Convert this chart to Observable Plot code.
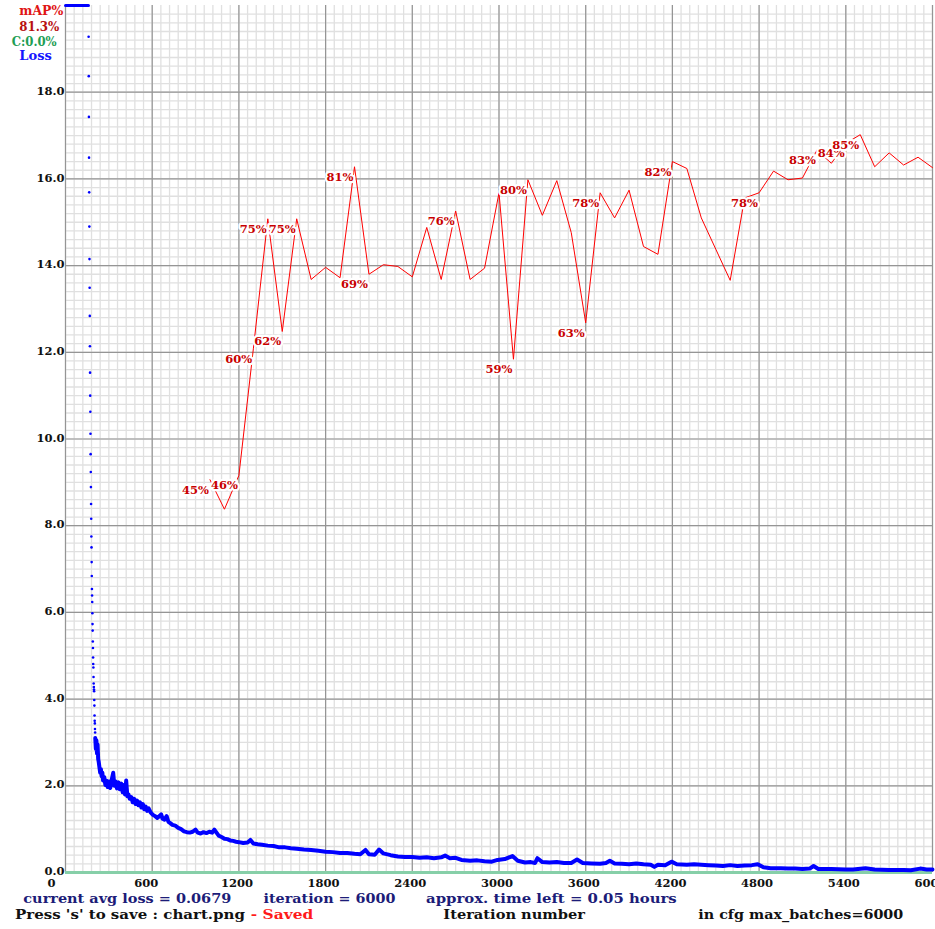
<!DOCTYPE html>
<html>
<head>
<meta charset="utf-8">
<script src="https://cdn.jsdelivr.net/npm/d3@7"></script>
<script src="https://cdn.jsdelivr.net/npm/@observablehq/plot@0.6"></script>
<style>
  html, body { margin: 0; padding: 0; background: #fff; overflow: hidden; }
  #chart { position: relative; width: 935px; height: 929px; }
</style>
</head>
<body>
<div id="chart"></div>
<script>
// ---------------- data ----------------
// x ticks (iterations) and y ticks (loss)
const xTicks = [0, 600, 1200, 1800, 2400, 3000, 3600, 4200, 4800, 5400, 6000];
const yTicks = [0, 2, 4, 6, 8, 10, 12, 14, 16, 18];

// loss above the top of the chart (clamped at 20)
const clampIter = [0, 159];
const clampLoss = [20, 20];

// early, sparse avg-loss points (one per iteration)
const earlyIter = [160,161,162,163,164,165,166,167,168,169,170,171,172,173,174,175,176,177,178,179,180,181,182,183,184,185,186,187,188,189,190,191,192,193,194,195,196,197,198,199,200,201,202,203,204,205];
const earlyLoss = [19.28,18.37,17.43,16.49,15.69,14.90,14.15,13.49,12.84,12.14,11.53,11.00,10.63,10.12,9.65,9.24,8.89,8.50,8.16,7.75,7.50,7.16,6.84,6.54,6.39,6.24,5.98,5.73,5.58,5.33,5.18,4.96,4.81,4.73,4.51,4.36,4.28,4.22,4.18,3.98,3.85,3.62,3.50,3.44,3.31,3.23];

// dense avg-loss band
const bandIter = [206,210,214,218,222,226,230,235,240,245,250,255,260,268,276,284,292,300,310,320,330,338,346,356,366,376,386,396,404,412,420,428,436,445,455,465,475,485,495,505,515,525,535,545,555,565,575,590,605,620,635,650,662,672,685,700,712,725,740,760,780,800,820,840,860,880,900,915,935,955,975,995,1015,1030,1045,1060,1080,1100,1120,1140,1160,1180,1200,1230,1260,1280,1300,1330,1360,1400,1440,1480,1520,1560,1600,1650,1700,1750,1800,1850,1900,1950,2000,2040,2076,2100,2140,2170,2200,2250,2300,2350,2400,2450,2500,2550,2600,2627,2660,2700,2740,2800,2850,2900,2950,2990,3040,3093,3130,3180,3220,3250,3266,3300,3350,3400,3450,3500,3540,3580,3640,3700,3740,3767,3800,3850,3900,3950,4000,4050,4075,4100,4150,4194,4230,4300,4350,4400,4450,4500,4550,4600,4650,4700,4750,4790,4830,4880,4950,5000,5050,5100,5150,5177,5210,5300,5400,5450,5536,5600,5700,5800,5850,5915,5960,6000];
const bandLoss = [3.10,2.85,3.05,2.75,2.95,2.62,2.55,2.42,2.30,2.38,2.22,2.30,2.12,2.20,2.02,2.12,1.97,2.10,1.95,2.14,2.30,2.00,2.10,1.94,2.08,1.92,2.05,1.85,2.02,1.80,2.12,1.76,1.80,1.70,1.74,1.62,1.70,1.58,1.66,1.55,1.62,1.50,1.58,1.46,1.52,1.42,1.48,1.38,1.33,1.30,1.26,1.30,1.34,1.24,1.22,1.30,1.17,1.14,1.10,1.08,1.03,1.00,0.95,0.93,0.92,0.94,0.99,0.92,0.90,0.93,0.91,0.94,0.92,0.99,0.92,0.85,0.82,0.78,0.77,0.74,0.73,0.71,0.70,0.68,0.69,0.75,0.67,0.65,0.64,0.62,0.61,0.58,0.58,0.56,0.55,0.53,0.52,0.50,0.48,0.47,0.45,0.45,0.43,0.42,0.52,0.42,0.41,0.53,0.44,0.40,0.37,0.36,0.36,0.34,0.35,0.33,0.35,0.39,0.33,0.34,0.29,0.27,0.28,0.26,0.25,0.29,0.31,0.38,0.27,0.23,0.24,0.22,0.33,0.24,0.23,0.24,0.22,0.22,0.30,0.22,0.21,0.20,0.22,0.27,0.21,0.20,0.19,0.21,0.19,0.18,0.13,0.18,0.17,0.25,0.19,0.18,0.19,0.18,0.17,0.16,0.15,0.17,0.15,0.16,0.17,0.19,0.12,0.10,0.10,0.09,0.09,0.08,0.09,0.15,0.08,0.08,0.07,0.07,0.10,0.07,0.06,0.06,0.05,0.09,0.07,0.068];

// mAP (%) every 100 iterations
const mapIter = [1000,1100,1200,1300,1400,1500,1600,1700,1800,1900,2000,2100,2200,2300,2400,2500,2600,2700,2800,2900,3000,3100,3200,3300,3400,3500,3600,3700,3800,3900,4000,4100,4200,4300,4400,4500,4600,4700,4800,4900,5000,5100,5200,5300,5400,5500,5600,5700,5800,5900,6000];
const mapVal = [45.3,41.9,45.8,60.4,75.4,62.4,75.4,68.4,69.8,68.6,81.4,69.0,70.1,69.9,68.7,74.4,68.4,76.3,68.4,69.7,78.4,59.2,79.9,75.8,79.8,73.8,63.4,78.4,75.5,78.7,72.2,71.3,82.0,81.2,75.5,71.9,68.3,77.8,78.4,80.9,79.9,80.1,83.3,81.8,84.1,85.1,81.4,83.0,81.6,82.5,81.3];
// iterations where a percentage label is printed
const labelIter = [1000,1200,1300,1400,1500,1600,2000,2100,2700,3100,3200,3600,3700,4200,4800,5200,5400,5500];

// texts
const legendTexts = ["mAP%", "81.3%", "C:0.0%", "Loss"];
const statusTexts = ["current avg loss = 0.0679", "iteration = 6000", "approx. time left = 0.05 hours"];
const footerTexts = ["Press 's' to save : chart.png", "- Saved", "Iteration number", "in cfg max_batches=6000"];

// ---------------- build tables ----------------
const clamp = clampIter.map((x, i) => ({x, y: clampLoss[i]}));
const early = earlyIter.map((x, i) => ({x, y: earlyLoss[i]}));
const band = bandIter.map((x, i) => ({x, y: bandLoss[i]}));
const mapData = mapIter.map((x, i) => ({x, y: mapVal[i] / 5}));  // 100% == 20 on the axis
const labels = mapData.filter(d => labelIter.includes(d.x))
  .map(d => ({...d, text: Math.round(d.y * 5) + "%"}));

const FONT = "DejaVu Serif";
const minorX = d3.range(0, 6001, 60);
const minorY = d3.range(0, 20.0001, 0.2);

const svg = Plot.plot({
  width: 935,
  height: 929,
  marginLeft: 65,
  marginRight: 3,
  marginTop: 5,
  marginBottom: 57,
  style: {background: "#fff", fontFamily: FONT},
  x: {domain: [0, 6000], axis: null},
  y: {domain: [0, 20], axis: null},
  marks: [
    Plot.ruleX(minorX, {stroke: "#e0e0e0", strokeWidth: 1.3}),
    Plot.ruleY(minorY.filter(v => v < 19.99), {stroke: "#e0e0e0", strokeWidth: 1.3}),
    Plot.ruleX(xTicks, {stroke: "#959595", strokeWidth: 1.2}),
    Plot.ruleY(yTicks.filter(v => v > 0), {stroke: "#959595", strokeWidth: 1.2}),
    Plot.ruleY([0], {stroke: "#86cfa8", strokeWidth: 3}),
    // y tick labels
    Plot.text(yTicks, {x: 0, y: d => d, text: d => d.toFixed(1), textAnchor: "end", dx: -1, dy: -1,
      fontFamily: FONT, fontWeight: "bold", fontSize: 11.5, fill: "#111"}),
    // x tick labels
    Plot.text(xTicks, {x: d => d, y: 0, text: d => String(d), textAnchor: "start", dx: -18, dy: 10.5,
      fontFamily: FONT, fontWeight: "bold", fontSize: 11.5, fill: "#111"}),
    // loss
    Plot.line(clamp, {x: "x", y: "y", stroke: "#0000ff", strokeWidth: 3}),
    Plot.dot(early, {x: "x", y: "y", r: 1.3, fill: "#0000ff", stroke: "none"}),
    Plot.line(band, {x: "x", y: "y", stroke: "#0000ff", strokeWidth: 4, strokeLinejoin: "round"}),
    // mAP
    Plot.line(mapData, {x: "x", y: "y", stroke: "#ff0000", strokeWidth: 1}),
    Plot.text(labels, {x: "x", y: "y", text: "text", textAnchor: "start", lineAnchor: "bottom",
      dx: -28, dy: 14, fontFamily: FONT, fontWeight: "bold", fontSize: 11.5,
      fill: "#c80000", stroke: "white", strokeWidth: 4.5, paintOrder: "stroke", strokeLinejoin: "round"})
  ]
});

document.getElementById("chart").appendChild(svg);

// ---------------- legend & status text ----------------
const root = d3.select(svg);
function addText(str, x, y, len, color, size) {
  root.append("text")
    .attr("x", x).attr("y", y)
    .attr("text-anchor", "start")
    .attr("textLength", len).attr("lengthAdjust", "spacingAndGlyphs")
    .attr("font-family", FONT).attr("font-weight", "bold")
    .attr("font-size", size).attr("fill", color)
    .text(str);
}
addText(legendTexts[0], 19.3, 15, 44, "#e01515", 12.5);
addText(legendTexts[1], 19.3, 30.5, 40, "#b81010", 12.5);
addText(legendTexts[2], 11.7, 46, 45, "#1f9e55", 12.5);
addText(legendTexts[3], 19.3, 59.5, 32.5, "#1515ff", 12.5);

addText(statusTexts[0], 23.3, 903, 208, "#1c1c78", 12);
addText(statusTexts[1], 263.5, 903, 132, "#1c1c78", 12);
addText(statusTexts[2], 426, 903, 250.7, "#1c1c78", 12);

addText(footerTexts[0], 15, 918.5, 230, "#111", 12);
addText(footerTexts[1], 250.7, 918.5, 62.6, "#ff1a1a", 12);
addText(footerTexts[2], 443.3, 918.5, 141.7, "#111", 12);
addText(footerTexts[3], 698.3, 918.5, 205, "#111", 12);
</script>
</body>
</html>
